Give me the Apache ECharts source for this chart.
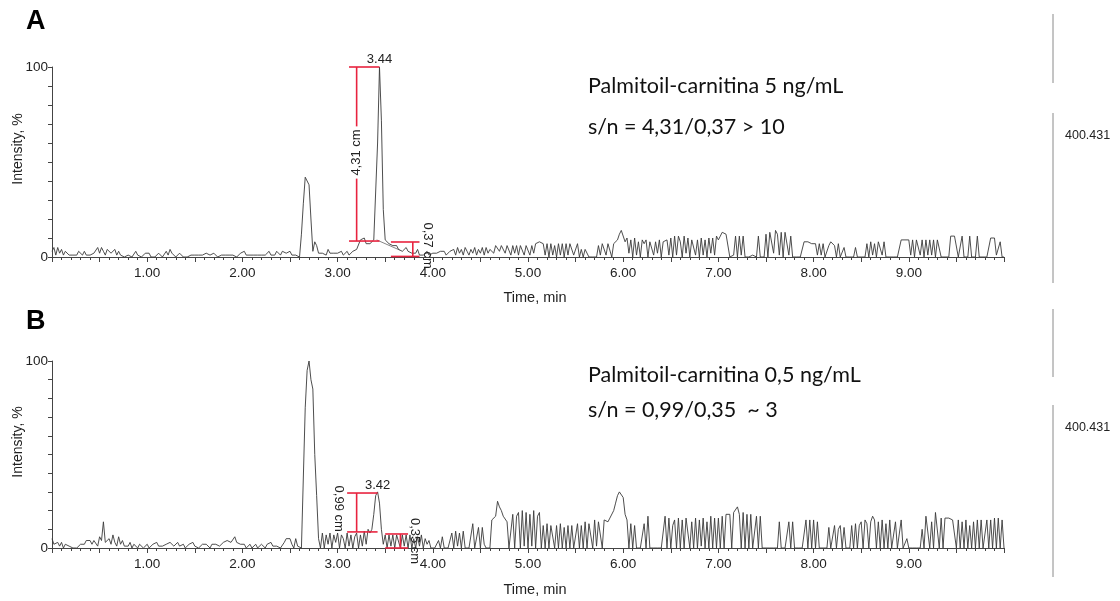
<!DOCTYPE html>
<html><head><meta charset="utf-8">
<script src="https://cdn.jsdelivr.net/npm/echarts@6/dist/echarts.min.js"></script>
<style>html,body{margin:0;padding:0;background:#fff}#c{width:1120px;height:601px}</style>
</head><body><div id="c"></div>
<script>
// ---- data ----
const timeStep = 0.02; // min between samples, starting at 0.00
const intensityA = [
3,5,1,5,2,4,1,3,2,1, 2,1,0,1,3,2,1,3,1,2, 1,0,2,1,5,2,5,3,1,4, 5,2,2,4,1,3,1,2,0,1, 1,2,0,1,3,1,2,0,1,2,
1,2,0,1,0,1,2,1,0,1, 3,1,4,2,1,0,1,2,1,0, 1,0,1,1,2,1,0,1,2,1, 1,2,2,1,1,2,1,0,0,1, 2,1,0,1,2,1,0,0,1,2,
2,3,1,0,1,2,1,0,1,2, 1,0,1,2,3,1,2,1,3,2, 1,3,4,2,1,3,1,0,1,0, 0,12,28,42,43,38,20,3,8,6, 2,1,2,3,1,4,2,1,2,1,
2,1,3,1,2,3,1,2,3,2, 4,5,9,8,10,7,6,7,8,9, 9,60,100,72,25,9,8,7,7,6, 5,6,4,5,3,4,5,3,4,2, 3,2,4,1,2,1,2,3,1,2,
2,3,2,1,3,2,3,1,2,3, 2,4,1,5,2,4,1,5,3,1, 4,2,5,1,4,2,5,1,5,2, 4,5,2,6,5,3,6,6,2,6, 5,1,6,2,6,1,6,5,1,6,
5,1,6,2,7,8,8,8,7,1, 7,0,7,1,6,0,7,1,7,0, 7,1,7,6,1,0,7,0,4,0, 4,3,0,0,0,1,0,6,1,7, 6,1,7,6,0,7,6,9,12,14,
13,8,10,2,9,0,10,1,8,0, 9,7,9,0,8,9,1,8,2,9, 0,8,7,9,1,10,0,11,1,11, 8,0,11,2,10,0,9,8,1,9, 0,10,1,9,0,10,2,10,1,11,
9,11,13,14,12,11,0,0,1,11, 0,11,1,11,0,0,0,0,1,0, 0,11,0,0,0,12,0,13,12,2, 14,12,1,13,0,13,12,1,11,0, 0,0,0,0,0,8,8,8,8,7,
8,7,1,7,1,7,0,0,6,8, 7,6,0,7,0,0,5,0,0,0, 0,0,5,0,0,0,0,0,7,0, 8,1,7,0,8,7,1,8,0,0, 0,0,0,0,0,0,9,9,9,9,
9,1,9,0,9,8,1,9,0,9, 1,9,1,9,0,9,8,0,0,0, 0,0,11,11,11,10,0,1,11,0, 0,0,11,0,0,0,11,0,0,0, 0,0,0,10,10,10,1,0,8,0,
0];
const intensityB = [
5,2,1,3,1,3,0,2,3,1, 0,0,1,0,1,2,3,2,4,3, 4,2,4,3,1,6,4,14,3,2, 5,2,7,3,1,6,2,4,1,2, 1,3,0,2,1,0,2,3,0,1,
2,0,1,2,1,3,1,2,1,0, 2,1,3,2,1,2,3,1,1,2, 0,1,2,1,3,1,2,0,1,2, 1,2,1,0,2,1,2,3,1,2, 3,2,4,5,3,4,6,3,4,2,
1,2,0,1,2,0,1,2,0,1, 2,1,0,2,1,3,1,2,1,2, 0,1,3,5,6,5,2,0,5,1, 0,0,0,75,95,100,90,85,50,28, 5,0,8,0,7,2,8,0,7,3,
8,0,7,5,0,8,1,7,0,6, 8,0,7,1,9,2,10,8,10,18, 28,30,24,10,2,7,0,7,1,7, 0,7,6,0,7,1,7,0,7,0, 5,0,6,1,7,0,5,2,4,0,
0,0,1,4,0,6,0,0,0,0, 8,0,9,1,8,0,9,0,0,0, 0,13,0,1,11,0,11,2,0,0, 0,15,16,17,25,22,20,17,16,14, 0,0,18,0,17,19,0,20,1,19,
0,18,1,20,0,17,19,0,12,0, 13,0,12,11,0,12,0,13,0,11, 0,12,0,12,0,0,13,0,12,0, 14,0,13,12,0,15,1,14,14,0, 15,16,14,16,17,20,24,28,30,29,
27,18,15,0,13,0,12,0,0,0, 0,13,0,17,0,0,0,0,0,0, 0,0,17,0,16,0,12,15,0,16, 0,15,0,16,16,0,14,0,16,0, 15,1,16,0,14,0,17,0,16,0,
16,0,17,0,18,19,18,0,19,20, 22,18,0,19,0,18,0,18,0,0, 17,0,17,0,0,0,0,0,0,0, 0,0,14,0,0,0,0,14,0,14, 0,0,0,0,0,0,15,0,15,0,
15,0,14,0,0,0,0,0,11,0, 0,12,0,10,12,0,11,0,0,0, 12,0,13,0,12,14,0,15,13,0, 14,17,15,0,14,0,15,0,13,0, 15,0,0,14,0,0,15,0,0,5,
0,0,0,0,0,0,0,10,0,17, 17,0,14,0,19,20,0,16,0,16, 15,16,15,15,16,0,15,0,14,0, 15,0,12,0,14,0,15,0,15,0, 0,15,0,15,0,16,0,16,0,15,
0];
const xTickLabels = ['1.00','2.00','3.00','4.00','5.00','6.00','7.00','8.00','9.00'];
const yTickLabels = {0:'0', 100:'100'};
// s/n measurement brackets: [xLeft, xRight, xVertical, yTop, yBottom] in (min, %)
const bracketsA = [[3.12,3.44,3.20,100,8.4],[3.56,3.86,3.79,7.9,0.3]];
const bracketsB = [[3.10,3.42,3.20,29.4,8.6],[3.50,3.74,3.66,7.5,0]];
// annotation texts at (min, %)
const labelsA = [
  {text:'3.44', x:3.44, y:100, rot:0},
  {text:'4,31 cm', x:3.20, y:55, rot:90},
  {text:'0,37 cm', x:3.94, y:6, rot:-90}
];
const labelsB = [
  {text:'3.42', x:3.42, y:29.4, rot:0},
  {text:'0,99 cm', x:3.01, y:21, rot:-90},
  {text:'0,35 cm', x:3.81, y:3.7, rot:-90}
];
const integrationBaselineA = [[3.41,9],[3.65,3.7]];
const titleA = ['Palmitoil-carnitina 5 ng/mL', 's/n = 4,31/0,37 > 10'];
const titleB = ['Palmitoil-carnitina 0,5 ng/mL', 's/n = 0,99/0,35  ~ 3'];
const massLabel = '400.431';

// ---- chart ----
const FONT = '"Liberation Sans", Arial, sans-serif';
const RED = '#e8233f';
const AX = '#444';
const toPairs = arr => arr.map((v, i) => [Math.round(i * timeStep * 100) / 100, v]);

function xAxisFor(gi) {
  return {
    gridIndex: gi, type: 'value', min: 0, max: 10, interval: 0.5,
    axisLine: {show: true, onZero: false, lineStyle: {color: AX, width: 1}},
    axisTick: {show: true, length: 5, lineStyle: {color: AX}},
    minorTick: {show: true, splitNumber: 5, length: 3, lineStyle: {color: AX}},
    splitLine: {show: false}, minorSplitLine: {show: false},
    axisLabel: {
      fontFamily: FONT, fontSize: 13.5, color: '#222', margin: 9, hideOverlap: false,
      formatter: v => {
        const r = Math.round(v);
        return (Math.abs(v - r) < 1e-6 && r >= 1 && r <= 9) ? xTickLabels[r - 1] : '';
      }
    }
  };
}
function yAxisFor(gi) {
  return {
    gridIndex: gi, type: 'value', min: 0, max: 100, interval: 10,
    axisLine: {show: true, lineStyle: {color: AX, width: 1}},
    axisTick: {show: true, length: 4, lineStyle: {color: AX}},
    splitLine: {show: false},
    axisLabel: {
      fontFamily: FONT, fontSize: 13.5, color: '#222', margin: 4,
      formatter: v => yTickLabels[v] !== undefined ? yTickLabels[v] : ''
    }
  };
}
function bracketSeries(gi, brackets) {
  return {
    type: 'custom', xAxisIndex: gi, yAxisIndex: gi, clip: false, silent: true, z: 5,
    data: brackets,
    encode: {x: [0, 1, 2], y: [3, 4]},
    renderItem: (params, api) => {
      const xl = api.value(0), xr = api.value(1), xv = api.value(2), yt = api.value(3), yb = api.value(4);
      const a = api.coord([xl, yt]), b = api.coord([xr, yt]);
      const c = api.coord([xl, yb]), d = api.coord([xr, yb]);
      const vt = api.coord([xv, yt]), vb = api.coord([xv, yb]);
      const st = {stroke: RED, lineWidth: 1.6};
      return {type: 'group', children: [
        {type: 'line', shape: {x1: a[0], y1: a[1], x2: b[0], y2: b[1]}, style: st},
        {type: 'line', shape: {x1: c[0], y1: c[1], x2: d[0], y2: d[1]}, style: st},
        {type: 'line', shape: {x1: vt[0], y1: vt[1], x2: vb[0], y2: vb[1]}, style: st}
      ]};
    }
  };
}
function labelSeries(gi, labels) {
  return {
    type: 'custom', xAxisIndex: gi, yAxisIndex: gi, clip: false, silent: true, z: 6,
    data: labels.map(l => [l.x, l.y]),
    renderItem: (params, api) => {
      const l = labels[params.dataIndex];
      const p = api.coord([api.value(0), api.value(1)]);
      if (l.rot === 0) {
        return {type: 'text', x: p[0], y: p[1] - 1,
          style: {text: l.text, fill: '#222', font: '13px ' + FONT, align: 'center', verticalAlign: 'bottom'}};
      }
      return {type: 'text', x: p[0], y: p[1], rotation: l.rot * Math.PI / 180,
        style: {text: l.text, fill: '#222', font: '13px ' + FONT, align: 'center', verticalAlign: 'middle',
          backgroundColor: l.rot > 0 ? '#fff' : null, padding: l.rot > 0 ? [0, 3] : 0}};
    }
  };
}
function lineSeries(gi, data) {
  return {
    type: 'line', xAxisIndex: gi, yAxisIndex: gi, data: toPairs(data),
    showSymbol: false, symbol: 'none', smooth: false, silent: true, z: 3,
    lineStyle: {color: '#3a3a3a', width: 0.9}
  };
}

const T = (text, x, y, font, extra) => ({type: 'text', x, y,
  style: Object.assign({text, fill: '#111', font, verticalAlign: 'middle'}, extra || {})});
const VL = (x, y1, y2) => ({type: 'line', shape: {x1: x, y1, x2: x, y2}, style: {stroke: '#8a8a8a', lineWidth: 1}});
const LATO = '21.5px Lato, "Open Sans", sans-serif';

const option = {
  backgroundColor: '#fff',
  animation: false,
  grid: [
    {left: 52, right: 116, top: 67, height: 190},
    {left: 52, right: 116, top: 361, height: 187}
  ],
  xAxis: [xAxisFor(0), xAxisFor(1)],
  yAxis: [yAxisFor(0), yAxisFor(1)],
  series: [
    lineSeries(0, intensityA),
    {type: 'line', xAxisIndex: 0, yAxisIndex: 0, data: integrationBaselineA, showSymbol: false, symbol: 'none',
      silent: true, z: 2, lineStyle: {color: '#666', width: 0.8}},
    bracketSeries(0, bracketsA),
    labelSeries(0, labelsA),
    lineSeries(1, intensityB),
    bracketSeries(1, bracketsB),
    labelSeries(1, labelsB)
  ],
  graphic: [
    T('A', 26, 22, 'bold 27px ' + FONT, {fill: '#000'}),
    T('B', 26, 322, 'bold 27px ' + FONT, {fill: '#000'}),
    T(titleA[0], 588, 86, LATO),
    T(titleA[1], 588, 127, LATO),
    T(titleB[0], 588, 375, LATO),
    T(titleB[1], 588, 410, LATO),
    T('Time, min', 535, 298, '14.5px ' + FONT, {align: 'center', fill: '#222'}),
    T('Time, min', 535, 590, '14.5px ' + FONT, {align: 'center', fill: '#222'}),
    {type: 'text', x: 18, y: 149, rotation: Math.PI / 2,
      style: {text: 'Intensity, %', fill: '#222', font: '14px ' + FONT, align: 'center', verticalAlign: 'middle'}},
    {type: 'text', x: 18, y: 442, rotation: Math.PI / 2,
      style: {text: 'Intensity, %', fill: '#222', font: '14px ' + FONT, align: 'center', verticalAlign: 'middle'}},
    T(massLabel, 1065, 136, '12.5px ' + FONT, {fill: '#222'}),
    T(massLabel, 1065, 428, '12.5px ' + FONT, {fill: '#222'}),
    VL(1053, 14, 83), VL(1053, 113, 283), VL(1053, 309, 377), VL(1053, 405, 577)
  ]
};
const chart = echarts.init(document.getElementById('c'));
chart.setOption(option);
</script>
</body></html>
